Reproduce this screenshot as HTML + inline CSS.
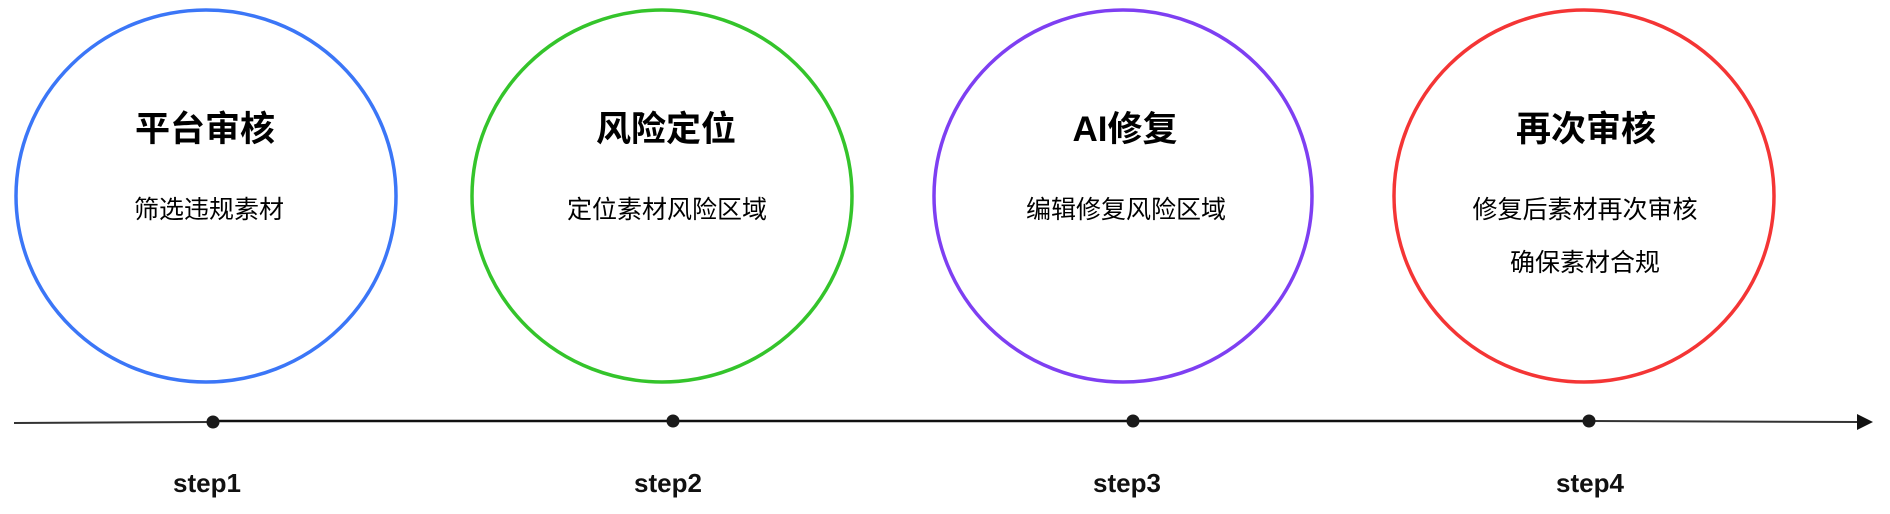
<!DOCTYPE html>
<html><head><meta charset="utf-8"><style>
body{margin:0;background:#fff;}
svg{display:block}
.t{font-family:"Liberation Sans","Noto Sans CJK SC",sans-serif;font-weight:bold;font-size:35px;fill:#000;text-anchor:middle;}
.s{font-family:"Liberation Sans","Noto Sans CJK SC",sans-serif;font-size:25px;fill:#000;text-anchor:middle;}
.st{font-family:"Liberation Sans",sans-serif;font-weight:bold;font-size:26px;fill:#111;text-anchor:middle;}
</style></head><body>
<svg width="1890" height="514" viewBox="0 0 1890 514">
<ellipse cx="206" cy="196" rx="190" ry="186" fill="none" stroke="#3b76f7" stroke-width="3.5"/>
<ellipse cx="662" cy="196" rx="190" ry="186" fill="none" stroke="#34c42b" stroke-width="3.5"/>
<ellipse cx="1123" cy="196" rx="189" ry="186" fill="none" stroke="#7e3ff2" stroke-width="3.5"/>
<ellipse cx="1584" cy="196" rx="190" ry="186" fill="none" stroke="#f43535" stroke-width="3.5"/>
<text class="t" x="205" y="141">平台审核</text>
<text class="s" x="209" y="218">筛选违规素材</text>
<text class="t" x="666" y="141">风险定位</text>
<text class="s" x="667" y="218">定位素材风险区域</text>
<text class="t" x="1125" y="141">AI修复</text>
<text class="s" x="1126" y="218">编辑修复风险区域</text>
<text class="t" x="1586" y="141">再次审核</text>
<text class="s" x="1585" y="218">修复后素材再次审核</text>
<text class="s" x="1585" y="271">确保素材合规</text>
<line x1="14" y1="423" x2="213" y2="422" stroke="#333" stroke-width="2"/>
<line x1="213" y1="421" x2="1589" y2="421" stroke="#111" stroke-width="2.5"/>
<line x1="1589" y1="421" x2="1860" y2="422" stroke="#333" stroke-width="2"/>
<polygon points="1857,414 1873,422 1857,430" fill="#111"/>
<circle cx="213" cy="422" r="6.5" fill="#1a1a1a"/>
<circle cx="673" cy="421" r="6.5" fill="#1a1a1a"/>
<circle cx="1133" cy="421" r="6.5" fill="#1a1a1a"/>
<circle cx="1589" cy="421" r="6.5" fill="#1a1a1a"/>
<text class="st" x="207" y="492">step1</text>
<text class="st" x="668" y="492">step2</text>
<text class="st" x="1127" y="492">step3</text>
<text class="st" x="1590" y="492">step4</text>
</svg>
</body></html>
